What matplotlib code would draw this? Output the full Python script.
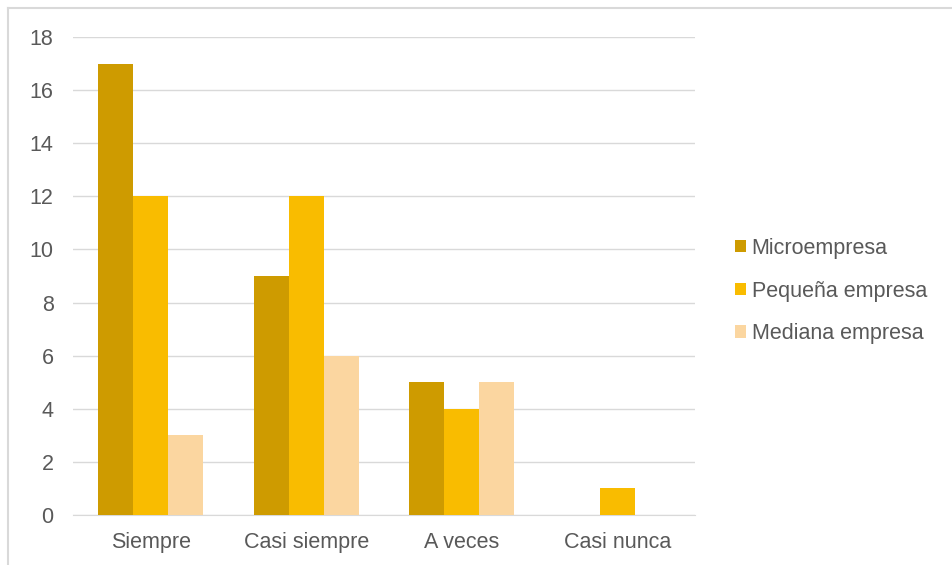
import matplotlib
matplotlib.use("Agg")
import matplotlib.pyplot as plt
import numpy as np
from matplotlib.lines import Line2D
from matplotlib.patches import Patch

categories = ["Siempre", "Casi siempre", "A veces", "Casi nunca"]
series_names = ["Microempresa", "Pequeña empresa", "Mediana empresa"]
micro = [17, 9, 5, 0]
pequena = [12, 12, 4, 1]
mediana = [3, 6, 5, 0]
yticks = [0, 2, 4, 6, 8, 10, 12, 14, 16, 18]

colors = ["#CE9B00", "#F9BC00", "#FBD6A0"]
plt.rcParams['font.family'] = ['Liberation Sans', 'DejaVu Sans']
text_color = "#595959"
fs = 15.5

fig = plt.figure(figsize=(9.53, 5.65), dpi=100)
ax = fig.add_axes([73/953, 1-515/565, (695-73)/953, (515-37)/565])

x = np.arange(len(categories))
w = 0.225
for i, (vals, c, name) in enumerate(zip([micro, pequena, mediana], colors, series_names)):
    ax.bar(x + (i-1)*w, vals, width=w, color=c, label=name, zorder=3)

ax.set_xlim(-0.5, len(categories)-0.5)
ax.set_ylim(0, 18)
ax.set_yticks(yticks)
ax.set_xticks(x)
ax.set_xticklabels(categories)
ax.tick_params(axis='both', length=0, labelsize=fs, colors=text_color)
ax.tick_params(axis='y', pad=14)
ax.tick_params(axis='x', pad=12)
ax.grid(axis='y', color="#D9D9D9", linewidth=1, zorder=0)
for s in ["top", "right", "left"]:
    ax.spines[s].set_visible(False)
ax.spines["bottom"].set_color("#D9D9D9")

handles = [Patch(facecolor=c, edgecolor='none') for c in colors]
leg = fig.legend(handles, series_names, loc='center left', bbox_to_anchor=(716/953, 1-291/565),
                 frameon=False, fontsize=fs, handlelength=0.5, handleheight=0.5,
                 handletextpad=0.25, labelspacing=1.0, labelcolor=text_color)

fig.add_artist(Line2D([8/953, 1], [1-8/565, 1-8/565], color="#D9D9D9", linewidth=1.5, transform=fig.transFigure))
fig.add_artist(Line2D([8/953, 8/953], [0, 1-8/565], color="#D9D9D9", linewidth=1.5, transform=fig.transFigure))

fig.savefig("out.png", dpi=100)
